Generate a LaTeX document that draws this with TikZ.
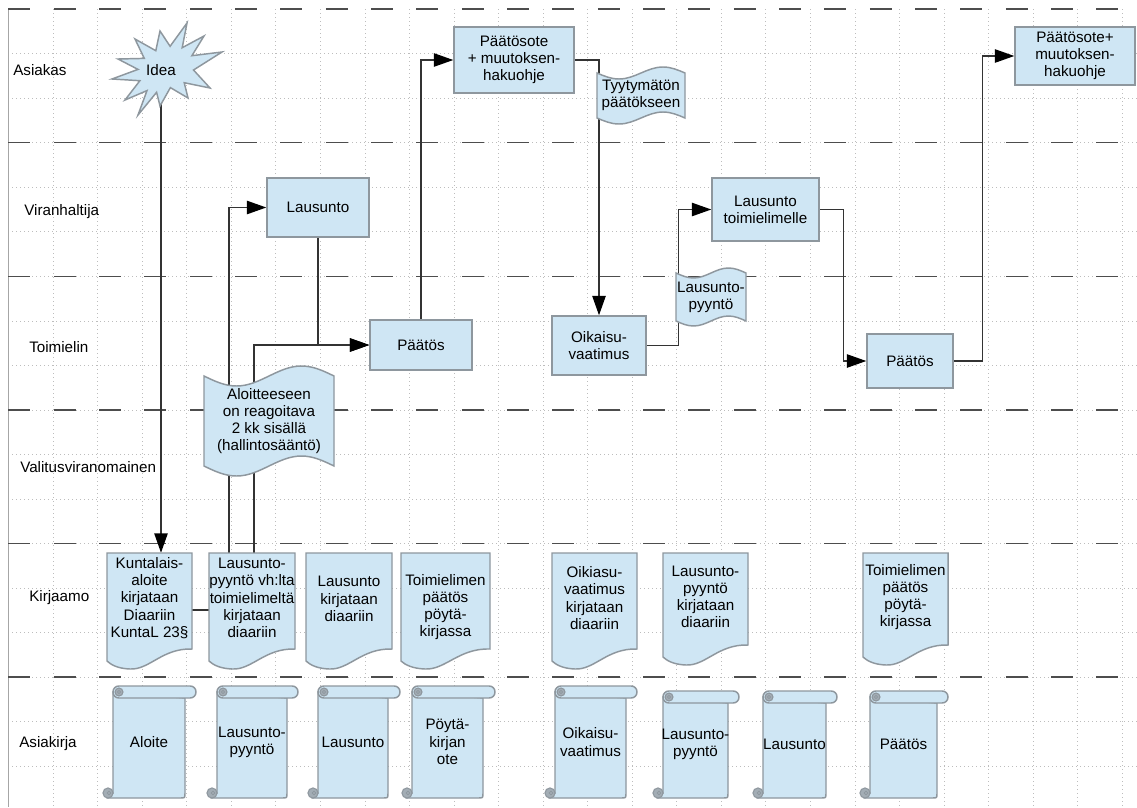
\documentclass[tikz,border=0pt]{standalone}
\usepackage{fontspec}
\setmainfont{Liberation Sans}
\usetikzlibrary{arrows.meta}
\definecolor{shapefill}{HTML}{CFE6F4}
\definecolor{shapeedge}{HTML}{8E979E}
\definecolor{curlfill}{HTML}{A3ADB5}
\definecolor{gridcol}{HTML}{BDBDBD}
\definecolor{lanecol}{HTML}{4D4D4D}
\definecolor{conncol}{HTML}{333333}
\newcommand\pxu{0.75pt}
\pgfdeclarelayer{gridlayer}
\pgfdeclarelayer{connlayer}
\pgfsetlayers{gridlayer,connlayer,main}
\tikzset{
 txt/.style={inner sep=0pt, align=center, font=\fontsize{11.4}{12.9}\selectfont, text=black},
 box/.style={txt, draw=shapeedge, fill=shapefill, line width=1.1pt, rectangle},
 shp/.style={draw=shapeedge, fill=shapefill, line width=1.1pt},
 curlsty/.style={draw=shapeedge, fill=curlfill, line width=0.8pt},
 bound/.style={inner sep=0pt, rectangle},
 conn/.style={draw=conncol, line width=1pt},
 arr/.style={conn, -{Triangle[length=14.5pt,width=10pt,color=black]}},
 gridln/.style={draw=gridcol, line width=0.5pt, dash pattern=on 0.75pt off 2.25pt},
 lane/.style={draw=lanecol, line width=1.2pt, dash pattern=on 16.5pt off 17.5pt},
 lanelbl/.style={txt, anchor=west},
}
% document shape: name, x0, x1, ybottom, text y, text
\newcommand\docshape[6]{%
 \draw[shp] (#2,553) -- (#3,553) -- (#3,{#4-20})
   .. controls ({#3-0.35*(#3-#2)},{#4-21}) and ({#2+0.5*(#3-#2)},{#4+1}) .. ({#2+0.27*(#3-#2)},{#4})
   .. controls ({#2+0.13*(#3-#2)},{#4-0.5}) and ({#2+0.05*(#3-#2)},{#4-4}) .. (#2,{#4-8}) -- cycle;
 \node[bound, minimum width={(#3-#2)*\pxu}, minimum height={114*\pxu}] (#1) at ({(#2+#3)/2},610) {};
 \node[txt] (#1-t) at ({(#2+#3)/2},#5) {#6};
}
% scroll shape: name, xl, yt, barW, bodyW, H, text
\newcommand\scrollshape[7]{%
 \draw[shp] (#2,{#3+6}) -- (#2,{#3+#6-5}) -- ({#2-5},{#3+#6}) -- ({#2+#5-5},{#3+#6})
   .. controls ({#2+#5},{#3+#6}) .. ({#2+#5},{#3+#6-5}) -- ({#2+#5},{#3+12}) -- cycle;
 \draw[shp, rounded corners=4.4pt] (#2,#3) rectangle ({#2+#4},{#3+12});
 \filldraw[curlsty] ({#2+6},{#3+6}) circle[radius=3pt];
 \draw[shapeedge, line width=0.6pt] ({#2+6},{#3+6}) circle[radius=1.2pt];
 \filldraw[curlsty] ({#2-5},{#3+#6-5}) circle[radius=3.8pt];
 \draw[shapeedge, line width=0.6pt] ({#2-4},{#3+#6-5}) circle[radius=1.4pt];
 \node[txt, minimum width={#5*\pxu}, minimum height={(#6-12)*\pxu}] (#1) at ({#2+#5/2},{#3+#6/2}) {#7};
}
% flag (punched tape): name, x0, x1, yt, yb, amp, text
\newcommand\flagshape[7]{%
 \draw[shp] (#2,#4) sin ({#2+0.25*(#3-#2)},{#4+#6}) cos ({#2+0.5*(#3-#2)},#4) sin ({#2+0.75*(#3-#2)},{#4-#6}) cos (#3,#4)
   -- (#3,#5) sin ({#2+0.75*(#3-#2)},{#5-#6}) cos ({#2+0.5*(#3-#2)},#5) sin ({#2+0.25*(#3-#2)},{#5+#6}) cos (#2,#5) -- cycle;
 \node[txt, minimum width={(#3-#2)*\pxu}, minimum height={(#5-#4)*\pxu}] (#1) at ({(#2+#3)/2},{(#4+#5)/2}) {#7};
}
\begin{document}
\begin{tikzpicture}[x=0.75pt,y=-0.75pt]
\useasboundingbox (0,0) rectangle (1137,807);
\begin{pgfonlayer}{gridlayer}
 \fill[white] (0,0) rectangle (1137,807);
 \foreach \k in {0,...,25} { \draw[gridln] ({8.45+44.55*\k},9) -- ({8.45+44.55*\k},807); }
 \foreach \k in {1,...,17} { \draw[gridln] (8.45,{9+44.55*\k}) -- (1137,{9+44.55*\k}); }
 \draw[draw=gray!70, line width=0.8pt] (8.45,9) -- (8.45,807);
 \draw[lane] (8.45,9) -- (1137,9);
 \foreach \yy in {142.65,276.3,409.95,543.6,677.25} { \draw[lane] (8.45,\yy) -- (1125,\yy); }
\end{pgfonlayer}

% lane labels
\node[lanelbl] (lA) at (13,70) {Asiakas};
\node[lanelbl] (lB) at (24,212) {Viranhaltija};
\node[lanelbl] (lC) at (29,347) {Toimielin};
\node[lanelbl] (lD) at (20,467) {Valitusviranomainen};
\node[lanelbl] (lE) at (29,598) {Kirjaamo};
\node[lanelbl] (lF) at (19,744) {Asiakirja};

% idea burst
\draw[shp] (118,59) -- (144.3,58.4) -- (135,39) -- (155.8,50.7) -- (160,31) -- (170.1,46.3) -- (187,23) -- (182.2,47.7)
  -- (204,36) -- (191.9,55.7) -- (222,52) -- (193.5,70) -- (210,88) -- (184.2,82.7) -- (188,98) -- (170.4,87.6)
  -- (160,106) -- (156.6,92.3) -- (138,115) -- (147,90.6) -- (125,100) -- (139.9,80.7) -- (112,79) -- (138,69.4) -- cycle;
\node[txt, minimum width={40*\pxu}, minimum height={62*\pxu}] (idea) at (161,70) {Idea};

% boxes
\node[box, minimum width={120*\pxu}, minimum height={66*\pxu}] (pso1) at (514,60) {Päätösote\\+ muutoksen-\\hakuohje};
\node[box, minimum width={120*\pxu}, minimum height={58*\pxu}] (pso2) at (1075,56) {Päätösote+\\muutoksen-\\hakuohje};
\node[box, minimum width={102*\pxu}, minimum height={59*\pxu}] (laus1) at (318,207.5) {Lausunto};
\node[box, minimum width={107*\pxu}, minimum height={63*\pxu}] (laus2) at (765.5,209.5) {Lausunto\\toimielimelle};
\node[box, minimum width={102*\pxu}, minimum height={50*\pxu}] (paa1) at (421,345) {Päätös};
\node[box, minimum width={94*\pxu}, minimum height={59*\pxu}] (oik) at (599,345.5) {Oikaisu-\\vaatimus};
\node[box, minimum width={86*\pxu}, minimum height={54*\pxu}] (paa2) at (910,361) {Päätös};

% flags
\flagshape{tyyt}{597}{685}{73}{118}{6}{Tyytymätön\\päätökseen}
\flagshape{lpf}{676}{746}{273}{321}{5}{Lausunto-\\pyyntö}
\flagshape{aloit}{204}{334}{376}{466}{10}{Aloitteeseen\\on reagoitava\\2 kk sisällä\\(hallintosääntö)}

% documents
\docshape{d1}{107}{192}{669}{598}{Kuntalais-\\aloite\\kirjataan\\Diaariin\\KuntaL 23§}
\docshape{d2}{209}{295}{669}{598}{Lausunto-\\pyyntö vh:lta\\toimielimeltä\\kirjataan\\diaariin}
\docshape{d3}{306}{392}{669}{599}{Lausunto\\kirjataan\\diaariin}
\docshape{d4}{401}{490}{669}{607}{Toimielimen\\päätös\\pöytä-\\kirjassa}
\docshape{d5}{552}{637}{669}{598}{Oikiasu-\\vaatimus\\kirjataan\\diaariin}
\docshape{d6}{663}{748}{665}{597}{Lausunto-\\pyyntö\\kirjataan\\diaariin}
\docshape{d7}{863}{948}{665}{597}{Toimielimen\\päätös\\pöytä-\\kirjassa}

% scrolls
\scrollshape{s1}{113}{686}{83}{72}{112}{Aloite}
\scrollshape{s2}{217}{686}{81}{70}{112}{Lausunto-\\pyyntö}
\scrollshape{s3}{318}{686}{82}{70}{112}{Lausunto}
\scrollshape{s4}{412}{686}{83}{71}{112}{Pöytä-\\kirjan\\ote}
\scrollshape{s5}{555}{686}{82}{71}{112}{Oikaisu-\\vaatimus}
\scrollshape{s6}{663}{691}{76}{65}{107}{Lausunto-\\pyyntö}
\scrollshape{s7}{763}{691}{74}{63}{107}{Lausunto}
\scrollshape{s8}{870}{691}{78}{67}{107}{Päätös}

% connectors
\begin{pgfonlayer}{connlayer}
 \draw[arr] (idea.south) -- (idea.south |- d1.north);
 \draw[conn] (d1.east) -- (d2.west);
 \draw[arr] ([xshift=-17.25pt]d2.north) |- (laus1.west);
 \draw[arr] ([xshift=1.5pt]d2.north) |- (paa1.west);
 \draw[arr] (laus1.south) |- (paa1.west);
 \draw[arr] (paa1.north) |- (pso1.west);
 \draw[arr] (pso1.east) -| (oik.north);
 \draw[arr] (oik.east) -- ++(32,0) |- (laus2.west);
 \draw[arr] (laus2.east) -- ++(24,0) |- (paa2.west);
 \draw[arr] (paa2.east) -- ++(29,0) |- (pso2.west);
\end{pgfonlayer}
\end{tikzpicture}
\end{document}
